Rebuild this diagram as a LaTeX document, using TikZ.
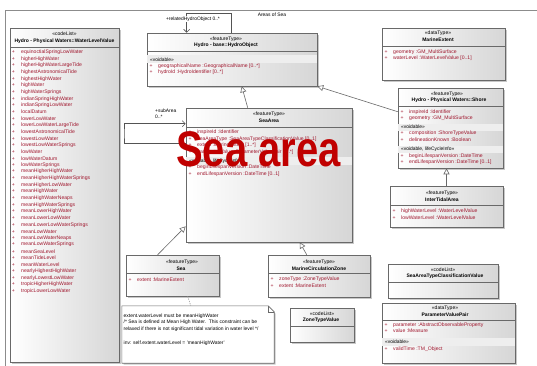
\documentclass[tikz,border=0pt]{standalone}
\usepackage{fontspec}
\setmainfont{Liberation Sans}
\usetikzlibrary{arrows.meta,shadows,fit}

\definecolor{attrred}{RGB}{160,22,45}
\definecolor{linegray}{RGB}{105,105,105}
\definecolor{bandgray}{RGB}{238,238,238}
\definecolor{framegray}{RGB}{140,140,140}
\definecolor{bigred}{RGB}{192,0,0}

\tikzset{
  umlbox/.style={draw=linegray, line width=0.6pt, left color=white, right color=gray!32,
    inner sep=0pt, drop shadow={shadow xshift=1.6pt, shadow yshift=-1.6pt, fill=gray!60, opacity=0.7}},
  stereo/.style={inner sep=0pt, font=\fontsize{5}{6}\selectfont},
  cname/.style={inner sep=0pt, font=\fontsize{5}{6}\selectfont\bfseries},
  attr/.style={inner sep=0pt, anchor=west, text=attrred, font=\fontsize{5.1}{6}\selectfont},
  grp/.style={inner sep=0pt, anchor=west, font=\fontsize{4.9}{6}\selectfont},
  sep/.style={draw=linegray, line width=0.5pt},
  band/.style={fill=bandgray},
  lbl/.style={inner sep=0.6pt, font=\fontsize{4.9}{6}\selectfont},
  notetext/.style={inner sep=0pt, anchor=west, font=\fontsize{4.95}{6}\selectfont},
  gen/.style={draw=linegray, line width=0.6pt, -{Triangle[open,length=6pt,width=6pt,fill=white]}},
  nav/.style={draw=linegray!80!black, line width=0.6pt, -{Straight Barb[length=3pt,width=6pt]}},
  notelink/.style={draw=gray!80, line width=0.6pt, dash pattern=on 1.2pt off 1.2pt},
}

\newcommand\attrline[4]{\node[attr] (#1) at (#2,#3) {\makebox[8.5pt][l]{+}#4};}

\begin{document}
\begin{tikzpicture}[x=1pt,y=-1pt]
\useasboundingbox (0,0) rectangle (537,365);
\clip (0,0) rectangle (537,365);
\fill[white] (0,0) rectangle (537,365);

% diagram frame
\draw[framegray, line width=0.6pt] (5,370) -- (5,10) -- (545,10);

% ---------- WaterLevelValue code list ----------
\node[umlbox, fit={(10,28) (119,362)}] (wlv) {};
\node[stereo] (wlv-st) at (64.5,34) {«codeList»};
\node[cname] (wlv-nm) at (64.5,41) {Hydro - Physical Waters::WaterLevelValue};
\draw[sep] (10,47) -- (119,47);
\foreach \t [count=\i] in {equinoctialSpringLowWater, higherHighWater, higherHighWaterLargeTide,
  highestAstronomicalTide, highestHighWater, highWater, highWaterSprings, indianSpringHighWater,
  indianSpringLowWater, localDatum, lowerLowWater, lowerLowWaterLargeTide, lowestAstronomicalTide,
  lowestLowWater, lowestLowWaterSprings, lowWater, lowWaterDatum, lowWaterSprings,
  meanHigherHighWater, meanHigherHighWaterSprings, meanHigherLowWater, meanHighWater,
  meanHighWaterNeaps, meanHighWaterSprings, meanLowerHighWater, meanLowerLowWater,
  meanLowerLowWaterSprings, meanLowWater, meanLowWaterNeaps, meanLowWaterSprings, meanSeaLevel,
  meanTideLevel, meanWaterLevel, nearlyHighestHighWater, nearlyLowestLowWater,
  tropicHigherHighWater, tropicLowerLowWater} {
  \node[attr] (wlv-\i) at (11.8,{52.3+(\i-1)*6.63}) {\makebox[9.2pt][l]{+}\t};
}

% ---------- HydroObject ----------
\node[umlbox, fit={(147,33) (317,86)}] (ho) {};
\node[stereo] (ho-st) at (226,39) {«featureType»};
\node[cname] (ho-nm) at (226,45.5) {Hydro - base::HydroObject};
\draw[sep] (147,51.5) -- (317,51.5);
\fill[band] (147.4,55) rectangle (316.6,63);
\node[grp] (ho-g1) at (150,59.5) {«voidable»};
\attrline{ho-a1}{149.5}{66}{geographicalName :GeographicalName [0..*]}
\attrline{ho-a2}{149.5}{72.5}{hydroId :HydroIdentifier [0..*]}

% ---------- SeaArea ----------
\node[umlbox, fit={(186,108) (352,242)}] (sa) {};
\node[stereo] (sa-st) at (269,114.5) {«featureType»};
\node[cname] (sa-nm) at (269,121) {SeaArea};
\draw[sep] (186,127) -- (352,127);
\attrline{sa-a1}{188.5}{132.5}{inspireId :Identifier}
\attrline{sa-a2}{188.5}{139}{seaAreaType :SeaAreaTypeClassificationValue [0..1]}
\attrline{sa-a3}{188.5}{145.6}{extent :MarineExtent [1..*]}
\attrline{sa-a4}{188.5}{152.2}{parameterValue :ParameterValuePair [0..*]}
\fill[band] (186.4,157) rectangle (351.6,165);
\node[grp] (sa-g1) at (189,161) {«voidable, lifeCycleInfo»};
\attrline{sa-a5}{188.5}{167.5}{beginLifespanVersion :DateTime}
\attrline{sa-a6}{188.5}{174}{endLifespanVersion :DateTime [0..1]}

% ---------- MarineExtent ----------
\node[umlbox, fit={(382,28) (505,80)}] (me) {};
\node[stereo] (me-st) at (438,33.5) {«dataType»};
\node[cname] (me-nm) at (438,40) {MarineExtent};
\draw[sep] (382,46.5) -- (505,46.5);
\attrline{me-a1}{384.5}{52.3}{geometry :GM\_MultiSurface}
\attrline{me-a2}{384.5}{58.5}{waterLevel :WaterLevelValue [0..1]}

% ---------- Shore ----------
\node[umlbox, fit={(398,88) (503,168)}] (sh) {};
\node[stereo] (sh-st) at (447,94) {«featureType»};
\node[cname] (sh-nm) at (449,100.5) {Hydro - Physical Waters::Shore};
\draw[sep] (398,106) -- (503,106);
\attrline{sh-a1}{400.5}{112}{inspireId :Identifier}
\attrline{sh-a2}{400.5}{118.3}{geometry :GM\_MultiSurface}
\fill[band] (398.4,123.5) rectangle (502.6,131);
\node[grp] (sh-g1) at (401,127) {«voidable»};
\attrline{sh-a3}{400.5}{133.5}{composition :ShoreTypeValue}
\attrline{sh-a4}{400.5}{140}{delineationKnown :Boolean}
\fill[band] (398.4,145.5) rectangle (502.6,152.5);
\node[grp] (sh-g2) at (401,149) {«voidable, lifeCycleInfo»};
\attrline{sh-a5}{400.5}{155.8}{beginLifespanVersion :DateTime}
\attrline{sh-a6}{400.5}{162.2}{endLifespanVersion :DateTime [0..1]}

% ---------- InterTidalArea ----------
\node[umlbox, fit={(390,186) (503,227)}] (ita) {};
\node[stereo] (ita-st) at (442,193) {«featureType»};
\node[cname] (ita-nm) at (442,199.3) {InterTidalArea};
\draw[sep] (390,205) -- (503,205);
\attrline{ita-a1}{392.5}{211}{highWaterLevel :WaterLevelValue}
\attrline{ita-a2}{392.5}{217.3}{lowWaterLevel :WaterLevelValue}

% ---------- SeaAreaTypeClassificationValue ----------
\node[umlbox, fit={(388,264) (498,298)}] (satcv) {};
\node[stereo] (satcv-st) at (443,270) {«codeList»};
\node[cname] (satcv-nm) at (445,276.3) {SeaAreaTypeClassificationValue};
\draw[sep] (388,282) -- (498,282);

% ---------- ParameterValuePair ----------
\node[umlbox, fit={(382,303) (515,363)}] (pvp) {};
\node[stereo] (pvp-st) at (445,308.3) {«dataType»};
\node[cname] (pvp-nm) at (445,314.5) {ParameterValuePair};
\draw[sep] (382,320) -- (515,320);
\attrline{pvp-a1}{384.5}{325.3}{parameter :AbstractObservableProperty}
\attrline{pvp-a2}{384.5}{331}{value :Measure}
\fill[band] (382.4,338) rectangle (514.6,345.5);
\node[grp] (pvp-g1) at (385,342) {«voidable»};
\attrline{pvp-a3}{384.5}{349}{validTime :TM\_Object}

% ---------- Sea ----------
\node[umlbox, fit={(126,255) (219,296)}] (sea) {};
\node[stereo] (sea-st) at (182,262) {«featureType»};
\node[cname] (sea-nm) at (181,268.3) {Sea};
\draw[sep] (126,273.5) -- (219,273.5);
\attrline{sea-a1}{128.5}{279.3}{extent :MarineExtent}

% ---------- MarineCirculationZone ----------
\node[umlbox, fit={(268,255) (370,297)}] (mcz) {};
\node[stereo] (mcz-st) at (319,262) {«featureType»};
\node[cname] (mcz-nm) at (319,268.3) {MarineCirculationZone};
\draw[sep] (268,273.5) -- (370,273.5);
\attrline{mcz-a1}{270.5}{279}{zoneType :ZoneTypeValue}
\attrline{mcz-a2}{270.5}{285.3}{extent :MarineExtent}

% ---------- ZoneTypeValue ----------
\node[umlbox, fit={(290,308) (354,342)}] (ztv) {};
\node[stereo] (ztv-st) at (322,314) {«codeList»};
\node[cname] (ztv-nm) at (321,320.3) {ZoneTypeValue};
\draw[sep] (290,326) -- (354,326);

% ---------- constraint note ----------
\node[inner sep=0pt, fit={(122,306) (274,363)}] (note) {};
\fill[gray!60, opacity=0.7] (123.6,307.6) -- (269.6,307.6) -- (275.6,313.6) -- (275.6,364.6) -- (123.6,364.6) -- cycle;
\filldraw[draw=linegray, line width=0.6pt, fill=white]
  (note.north west) -- ([xshift=-6pt]note.north east) -- ([yshift=-6pt]note.north east)
  -- (note.south east) -- (note.south west) -- cycle;
\draw[linegray, line width=0.5pt] ([xshift=-6pt]note.north east) |- ([yshift=-6pt]note.north east);
\node[notetext] (note-l1) at (123.5,316) {extent.waterLevel must be meanHighWater};
\node[notetext] (note-l2) at (123.5,322.6) {/* Sea is defined at Mean High Water.\ \ This constraint can be};
\node[notetext] (note-l3) at (123.5,329.2) {relaxed if there is not significant tidal variation in water level */};
\node[notetext] (note-l4) at (123.5,343) {inv: self.extent.waterLevel = 'meanHighWater'};

% ---------- connectors ----------
% generalizations
\draw[gen] ([xshift=62pt]sa.north west) -- ([xshift=95pt]ho.south west);
\draw[gen] ([yshift=-24pt]sh.north west) -- (ho.south east);
\draw[gen] (ita.north) -- (ita.north |- sh.south);
\draw[gen] ([xshift=32pt]sea.north west) -- ([yshift=16pt]sa.south west);
\draw[gen] ([xshift=39pt]mcz.north west) -- ([xshift=114pt]sa.south west);

% self association: related hydro objects
\draw[nav] ([xshift=85pt]ho.north west) -- ++(0,-19) -| ([xshift=40pt]ho.north west);
\node[lbl, fill=white] (rel-lbl) at (193,19) {+relatedHydroObject 0..*};
\node[lbl] (areas-lbl) at (272,15) {Areas of Sea};

% self association: sub areas
\coordinate (subloop) at (124,134);
\draw[nav] ([yshift=-36pt]sa.north west) -| (subloop) |- ([yshift=-16pt]sa.north west);
\node[lbl, anchor=west, inner sep=0pt] (sub-lbl) at (155,111) {+subArea};
\node[lbl, anchor=west, inner sep=0pt] (sub-mult) at (155,117) {0..*};

% note attachment
\draw[notelink] ([xshift=62pt]sea.south west) -- ([xshift=69pt]note.north west);

% ---------- overlay title ----------
\node[inner sep=0pt, anchor=base west, text=bigred, font=\fontsize{50}{50}\selectfont\bfseries]
  (title) at (176,166) {\scalebox{0.8}[1]{Sea area}};
\end{tikzpicture}
\end{document}
